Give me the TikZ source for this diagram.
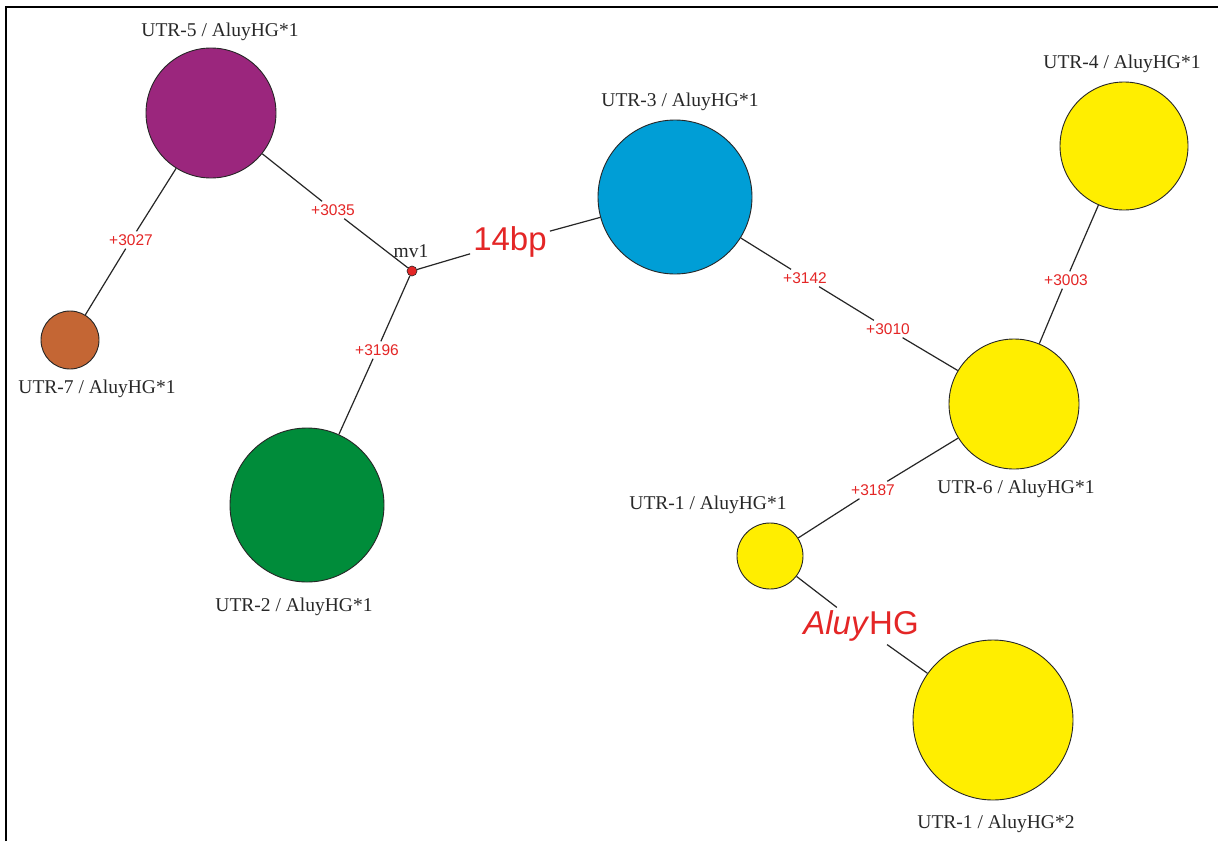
\documentclass[tikz,border=0pt]{standalone}
\usepackage{fontspec}
\setmainfont{Liberation Serif}
\newfontfamily\arialfont{Liberation Sans}
\definecolor{cpurple}{RGB}{155,38,125}
\definecolor{cbrown}{RGB}{196,102,52}
\definecolor{cgreen}{RGB}{0,140,58}
\definecolor{cblue}{RGB}{0,158,214}
\definecolor{cyellow}{RGB}{255,238,0}
\definecolor{cred}{RGB}{228,38,38}
\definecolor{ctext}{RGB}{40,40,40}
\begin{document}
\begin{tikzpicture}[x=1pt,y=-1pt,
  hap/.style={circle,draw=black!85,line width=0.9pt,inner sep=0pt},
  lab/.style={font=\fontsize{19.5}{22}\selectfont,text=ctext,inner sep=0pt},
  mut/.style={font=\arialfont\fontsize{15.5}{17}\selectfont,text=cred,fill=white,inner sep=3pt},
  big/.style={font=\arialfont\fontsize{33}{36}\selectfont,text=cred,fill=white,inner sep=3pt},
  edge/.style={draw=black!85,line width=1.2pt}]
\useasboundingbox (0,0) rectangle (1218,841);
\fill[white] (0,0) rectangle (1218,841);
\draw[line width=1.2pt] (6,841) -- (6,7) -- (1218,7);

% haplotype circles
\node[hap,fill=cpurple,minimum size=130pt] (u5) at (211,113) {};
\node[hap,fill=cbrown,minimum size=58pt] (u7) at (70,340) {};
\node[hap,fill=cgreen,minimum size=154pt] (u2) at (307,505) {};
\node[hap,fill=cblue,minimum size=154pt] (u3) at (675,197) {};
\node[hap,fill=cyellow,minimum size=128pt] (u4) at (1124,146) {};
\node[hap,fill=cyellow,minimum size=130pt] (u6) at (1014,404) {};
\node[hap,fill=cyellow,minimum size=66pt] (u1a) at (770,556) {};
\node[hap,fill=cyellow,minimum size=160pt] (u1b) at (993,720) {};
\node[circle,draw=black!85,fill=cred,line width=0.6pt,minimum size=10pt,inner sep=0pt] (mv) at (412,271) {};

% haplotype labels
\node[lab] (t5) at (220,32) {UTR-5 / AluyHG*1};
\node[lab] (t7) at (97,389) {UTR-7 / AluyHG*1};
\node[lab] (t2) at (294,607) {UTR-2 / AluyHG*1};
\node[lab] (t3) at (680,102) {UTR-3 / AluyHG*1};
\node[lab] (t4) at (1122,64) {UTR-4 / AluyHG*1};
\node[lab] (t6) at (1016,489) {UTR-6 / AluyHG*1};
\node[lab] (t1a) at (708,505) {UTR-1 / AluyHG*1};
\node[lab] (t1b) at (996,824) {UTR-1 / AluyHG*2};
\node[lab] (tmv) at (411,251) {mv1};

% mutation labels
\node[mut] (m3027) at (131,240) {+3027};
\node[mut] (m3035) at (333,210) {+3035};
\node[mut] (m3196) at (377,350) {+3196};
\node[big] (m14) at (510,242) {14bp};
\node[mut] (m3142) at (805,278) {+3142};
\node[mut] (m3010) at (888,329) {+3010};
\node[mut] (m3003) at (1066,280) {+3003};
\node[mut] (m3187) at (873,490) {+3187};
\node[big] (malu) at (861,626) {\textit{Aluy}HG};

% connectors
\draw[edge] (u5) -- (m3027) -- (u7);
\draw[edge] (u5) -- (m3035) -- (mv);
\draw[edge] (mv) -- (m3196) -- (u2);
\draw[edge] (mv) -- (m14) -- (u3);
\draw[edge] (u3) -- (m3142) -- (m3010) -- (u6);
\draw[edge] (u4) -- (m3003) -- (u6);
\draw[edge] (u6) -- (m3187) -- (u1a);
\draw[edge] (u1a) -- (malu) -- (u1b);
\end{tikzpicture}
\end{document}
